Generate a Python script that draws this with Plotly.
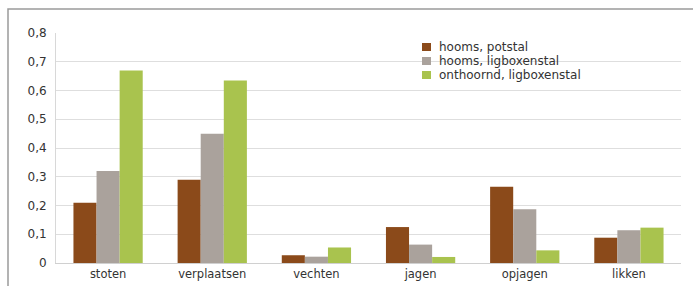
import plotly.graph_objects as go

categories = ["stoten", "verplaatsen", "vechten", "jagen", "opjagen", "likken"]
series_names = ["hooms, potstal", "hooms, ligboxenstal", "onthoornd, ligboxenstal"]
potstal = [0.21, 0.29, 0.027, 0.125, 0.265, 0.088]
ligbox_hoorns = [0.32, 0.45, 0.022, 0.064, 0.187, 0.114]
onthoornd = [0.67, 0.635, 0.054, 0.021, 0.044, 0.123]
ytick_vals = [0, 0.1, 0.2, 0.3, 0.4, 0.5, 0.6, 0.7, 0.8]
ytick_text = ["0", "0,1", "0,2", "0,3", "0,4", "0,5", "0,6", "0,7", "0,8"]

colors = ["#8b4a1a", "#aaa29c", "#a9c34e"]

W, H = 693, 286
L, R, T, B = 56, 12, 33, 23
pw, ph = W - L - R, H - T - B

def px(x):
    return (x - L) / pw

def py(y):
    return (H - B - y) / ph

fig = go.Figure()
for name, vals, c in zip(series_names, [potstal, ligbox_hoorns, onthoornd], colors):
    fig.add_trace(go.Bar(x=categories, y=vals, name=name, showlegend=False,
                         marker=dict(color=c, line=dict(width=0))))

# custom compact legend
shapes = [dict(type="rect", xref="paper", yref="paper",
               x0=px(8), x1=px(720), y0=py(9), y1=py(320),
               line=dict(color="#9a9a9a", width=1.5), fillcolor="rgba(0,0,0,0)",
               layer="below")]
annotations = []
for i, (name, c) in enumerate(zip(series_names, colors)):
    yc = 47 + 14 * i
    shapes.append(dict(type="rect", xref="paper", yref="paper",
                       x0=px(422), x1=px(431), y0=py(yc + 4), y1=py(yc - 4),
                       fillcolor=c, line=dict(width=0)))
    annotations.append(dict(xref="paper", yref="paper", x=px(437), y=py(yc),
                            xanchor="left", yanchor="middle", showarrow=False,
                            text=name, font=dict(size=12, color="#333333")))

fig.update_layout(
    width=W, height=H,
    margin=dict(l=L, r=R, t=T, b=B, autoexpand=False),
    paper_bgcolor="white", plot_bgcolor="white",
    barmode="group", bargap=0.335, bargroupgap=0,
    font=dict(family="DejaVu Sans", size=11, color="#333333"),
    showlegend=False,
    xaxis=dict(showgrid=False, showline=True, linecolor="#d0d0d0", ticks="",
               automargin=False, tickfont=dict(size=11.5, color="#333333")),
    yaxis=dict(range=[0, 0.8], tickvals=ytick_vals, ticktext=ytick_text,
               showgrid=True, gridcolor="#dedede", showline=True, linecolor="#d8d8d8",
               zeroline=False, ticks="", ticklen=0, ticklabelstandoff=6,
               automargin=False, tickfont=dict(size=12, color="#333333")),
    shapes=shapes,
    annotations=annotations,
)

fig.write_html("out.html", config={"displayModeBar": False},
               post_script="document.body.style.margin='0';document.body.style.overflow='hidden';")
